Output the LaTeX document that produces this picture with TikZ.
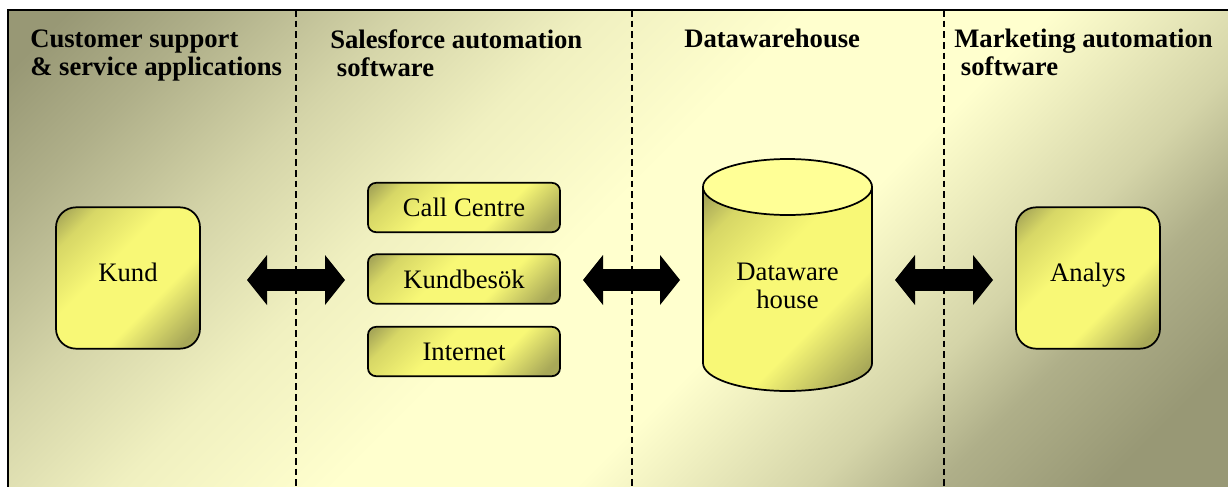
\documentclass[tikz,border=0pt]{standalone}
\usepackage{fontspec}
\setmainfont{Liberation Serif}
\usetikzlibrary{arrows.meta}

\definecolor{bgdark}{RGB}{152,152,117}
\definecolor{bgdeep}{RGB}{175,175,137}
\definecolor{bgmid}{RGB}{212,212,168}
\definecolor{bgsoft}{RGB}{240,240,192}
\definecolor{bglight}{RGB}{255,255,206}
\definecolor{boxdark}{RGB}{168,168,88}
\definecolor{boxmid}{RGB}{215,215,102}
\definecolor{boxlight}{RGB}{248,248,118}
\definecolor{toplight}{RGB}{255,255,150}

\pgfdeclareverticalshading{bgshade}{100bp}{color(0bp)=(bgdark); color(20bp)=(bgdark); color(27bp)=(bgdeep); color(32bp)=(bgmid); color(42bp)=(bglight); color(52bp)=(bglight); color(61bp)=(bgsoft); color(69bp)=(bgmid); color(77bp)=(bgdeep); color(83bp)=(bgdark); color(100bp)=(bgdark)}
\pgfdeclareverticalshading{boxshade}{100bp}{color(0bp)=(boxdark); color(20bp)=(boxdark); color(38bp)=(boxlight); color(58bp)=(boxlight); color(75bp)=(boxmid); color(83bp)=(boxdark); color(100bp)=(boxdark)}

\begin{document}
\begin{tikzpicture}[x=0.75pt, y=-0.75pt, font=\fontsize{20}{21}\selectfont,
		lane/.style={line width=1.1pt, dash pattern=on 5pt off 3pt},
		header/.style={anchor=north west, inner sep=0pt, align=left, font=\fontsize{20}{21}\selectfont\bfseries},
		yellowfill/.style={draw, line width=1.3pt, shading=boxshade, shading angle=45},
		bigbox/.style={yellowfill, rounded corners=15pt, minimum width=108pt, minimum height=106pt, text depth=9pt},
		smallbox/.style={yellowfill, rounded corners=6pt, minimum width=144pt, minimum height=37pt},
		bigarrow/.style={line width=17pt, {Triangle[length=15pt, width=37.5pt, line width=0pt]}-{Triangle[length=15pt, width=37.5pt, line width=0pt]}}]
		\useasboundingbox (0, 0) rectangle (1228, 486);

		% background
		\path[shading=bgshade, shading angle=45] (8, 10) rectangle (1232, 490);
		\draw[line width=1.5pt] (8, 490) -- (8, 10) -- (1232, 10);

		% lanes
		\foreach \x in {296, 632, 944} {
			\draw[lane] (\x, 10) -- (\x, 486);
		}

		% headers
		\node[header] (h1) at (30, 30) {Customer support\\\& service applications};
		\node[header] (h2) at (330, 29) {Salesforce automation\\\hspace*{0.25em}software};
		\node[header] (h3) at (684, 29) {Datawarehouse};
		\node[header] (h4) at (954, 29) {Marketing automation\\\hspace*{0.25em}software};

		% nodes
		\node[bigbox] (kund) at (128, 278) {Kund};
		\node[smallbox] (call) at (464, 207.5) {Call Centre};
		\node[smallbox] (besok) at (464, 279) {Kundbesök};
		\node[smallbox] (web) at (464, 351.5) {Internet};
		\node[bigbox] (analys) at (1088, 278) {Analys};

		% datawarehouse cylinder
		\draw[yellowfill] (703, 187) -- (703, 363) arc[start angle=180, end angle=360, x radius=63.4pt, y radius=21pt] -- (872, 187) -- cycle;
		\draw[line width=1.3pt, fill=toplight] (787.5, 187) ellipse [x radius=63.4pt, y radius=21pt];
		\node[align=center] (dw) at (787.5, 286) {Dataware\\house};

		% arrows
		\coordinate (a1w) at (247, 280);
		\coordinate (a1e) at (345, 280);
		\coordinate (a2w) at (583, 280);
		\coordinate (a2e) at (680, 280);
		\coordinate (a3w) at (895, 280);
		\coordinate (a3e) at (993, 280);
		\draw[bigarrow] (a1w) -- (a1e);
		\draw[bigarrow] (a2w) -- (a2e);
		\draw[bigarrow] (a3w) -- (a3e);
	\end{tikzpicture}
\end{document}
